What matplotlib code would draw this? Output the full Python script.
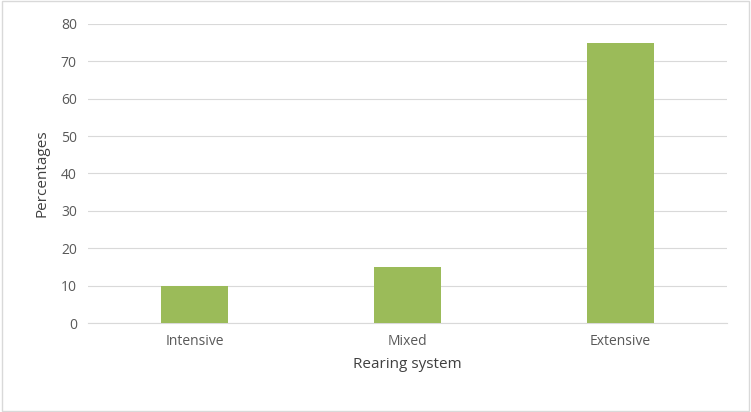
import matplotlib.pyplot as plt
from matplotlib.patches import Rectangle

categories = ['Intensive', 'Mixed', 'Extensive']
percentages = [10, 15, 75]

plt.rcParams['font.family'] = ['Open Sans', 'DejaVu Sans']

fig = plt.figure(figsize=(7.51, 4.12), dpi=100)
ax = fig.add_axes([0.117, 0.216, 0.851, 0.726])

x = range(len(categories))
ax.bar(x, percentages, width=0.315, color='#9BBB59', zorder=3)

ax.set_xlim(-0.5, len(categories) - 0.5)
ax.set_ylim(0, 80)
ax.set_yticks(range(0, 81, 10))
ax.set_xticks(list(x))
ax.set_xticklabels(categories)
ax.grid(axis='y', color='#D9D9D9', linewidth=0.8, zorder=0)
ax.tick_params(length=0, labelsize=10, colors='#595959', pad=8)
for side in ['top', 'right', 'left']:
    ax.spines[side].set_visible(False)
ax.spines['bottom'].set_color('#D9D9D9')

ax.set_xlabel('Rearing system', fontsize=11, color='#404040', labelpad=6)
ax.set_ylabel('Percentages', fontsize=11, color='#404040', labelpad=8)

fig.patches.append(Rectangle((0.002, 0.003), 0.995, 0.994, transform=fig.transFigure,
                             fill=False, edgecolor='#D9D9D9', linewidth=1))

fig.savefig('out.png', dpi=100)
